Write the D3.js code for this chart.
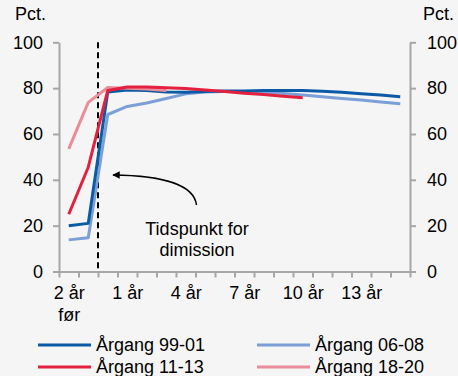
<!DOCTYPE html>
<html>
<head>
<meta charset="utf-8">
<script src="https://cdn.jsdelivr.net/npm/d3@7"></script>
<style>
  html, body { margin: 0; padding: 0; background: #f5f5f5; }
  svg { display: block; font-family: "Liberation Sans", Arial, sans-serif; }
</style>
</head>
<body>
<svg id="chart" width="458" height="376"></svg>
<script>
const categories = ["2 år før", "", "", "1 år", "", "", "4 år", "", "", "7 år", "", "", "10 år", "", "", "13 år", "", ""];
const seriesNames = ["Årgang 99-01", "Årgang 06-08", "Årgang 11-13", "Årgang 18-20"];
const s9901 = [20, 21, 78.3, 79.2, 79, 78.3, 78.2, 78.5, 78.8, 78.8, 79, 79, 79, 78.6, 78.2, 77.6, 77, 76.2];
const s0608 = [13.8, 14.7, 68.5, 72, 73.5, 75.5, 77.5, 78.3, 78.5, 78.5, 78.2, 77.7, 77, 76.2, 75.5, 74.8, 74, 73.2];
const s1113 = [25, 45.5, 79, 80.5, 80.5, 80.2, 79.8, 79.2, 78.5, 77.8, 77.2, 76.5, 75.8];
const s1820 = [53.5, 73.8, 80.3, 80, 79.6, 79];
const yTicks = [0, 20, 40, 60, 80, 100];
const colors = ["#0a5aa6", "#7b9fd6", "#e4203f", "#ec8c9a"];

const svg = d3.select("#chart");
const fs = 18;
const x = d3.scaleLinear().domain([0, categories.length]).range([59, 410]);
const y = d3.scaleLinear().domain([0, 100]).range([271.5, 42.3]);
const axisColor = "#a6a6a6";

// Left axis
const gl = svg.append("g").attr("transform", `translate(${x(0)},0)`)
  .call(d3.axisLeft(y).tickValues(yTicks).tickSize(6).tickSizeOuter(0).tickPadding(10));
// Right axis
const gr = svg.append("g").attr("transform", `translate(${x(categories.length)},0)`)
  .call(d3.axisRight(y).tickValues(yTicks).tickSize(6).tickSizeOuter(0).tickPadding(11));
// Bottom axis ticks
const gb = svg.append("g").attr("transform", `translate(0,${y(0)})`)
  .call(d3.axisBottom(x).tickValues(d3.range(categories.length + 1)).tickSize(6).tickSizeOuter(0).tickFormat(""));
// Bottom labels
const labelIdx = categories.map((c, i) => i).filter(i => categories[i] !== "");
const gbl = svg.append("g").attr("transform", `translate(0,${y(0)})`)
  .call(d3.axisBottom(x).tickValues(labelIdx.map(i => i + 0.5)).tickSize(0).tickPadding(15)
    .tickFormat(v => categories[Math.round(v - 0.5)]));
gbl.select(".domain").remove();
gbl.selectAll(".tick text").each(function() {
  const t = d3.select(this);
  const txt = t.text();
  if (txt === "2 år før") {
    t.text(null);
    t.append("tspan").attr("x", 0).attr("dy", "0.71em").text("2 år");
    t.append("tspan").attr("x", 0).attr("dy", "1.2em").text("før");
    t.attr("dy", null);
  }
});

[gl, gr, gb, gbl].forEach(g => {
  g.selectAll(".domain").attr("stroke", axisColor).attr("stroke-width", 2);
  g.selectAll(".tick line").attr("stroke", axisColor).attr("stroke-width", 2);
  g.selectAll(".tick text").attr("fill", "#000").attr("font-size", fs).attr("font-family", '"Liberation Sans", Arial, sans-serif');
});

// Pct. labels
svg.append("text").attr("x", 15).attr("y", 20).attr("font-size", fs).text("Pct.");
svg.append("text").attr("x", 423).attr("y", 20).attr("font-size", fs).text("Pct.");

// Dashed line at graduation
svg.append("line")
  .attr("x1", x(2)).attr("x2", x(2))
  .attr("y1", y(100)).attr("y2", y(0))
  .attr("stroke", "#000").attr("stroke-width", 2).attr("stroke-dasharray", "6,4");

// Lines
const line = d3.line().x((d, i) => x(i + 0.5)).y(d => y(d));
const series = [s0608, s9901, s1820, s1113];
const seriesCols = [colors[1], colors[0], colors[3], colors[2]];
series.forEach((s, k) => {
  svg.append("path").datum(s)
    .attr("d", line)
    .attr("fill", "none")
    .attr("stroke", seriesCols[k])
    .attr("stroke-width", 3)
    .attr("stroke-linejoin", "round");
});

// Annotation arrow
const defs = svg.append("defs");
defs.append("marker").attr("id", "arrow").attr("viewBox", "0 0 10 10")
  .attr("refX", 9).attr("refY", 5).attr("markerWidth", 5).attr("markerHeight", 5)
  .attr("orient", "auto-start-reverse").attr("markerUnits", "strokeWidth")
  .append("path").attr("d", "M0,0 L10,5 L0,10 Z").attr("fill", "#000");
const path = d3.path();
path.moveTo(196.5, 205);
path.bezierCurveTo(194, 184, 160, 175.5, 113, 175);
svg.append("path").attr("d", path.toString())
  .attr("fill", "none").attr("stroke", "#000").attr("stroke-width", 1.5)
  .attr("marker-end", "url(#arrow)");
svg.append("text").attr("x", 197).attr("y", 235).attr("text-anchor", "middle").attr("font-size", fs).text("Tidspunkt for");
svg.append("text").attr("x", 197).attr("y", 256).attr("text-anchor", "middle").attr("font-size", fs).text("dimission");

// Legend
const legendPos = [[38, 345], [257, 345], [38, 367], [257, 367]];
seriesNames.forEach((n, k) => {
  const [lx, ly] = legendPos[k];
  svg.append("line").attr("x1", lx).attr("x2", lx + 53).attr("y1", ly).attr("y2", ly)
    .attr("stroke", colors[k]).attr("stroke-width", 3);
  svg.append("text").attr("x", lx + 58).attr("y", ly + 6).attr("font-size", fs).text(n);
});
</script>
</body>
</html>
